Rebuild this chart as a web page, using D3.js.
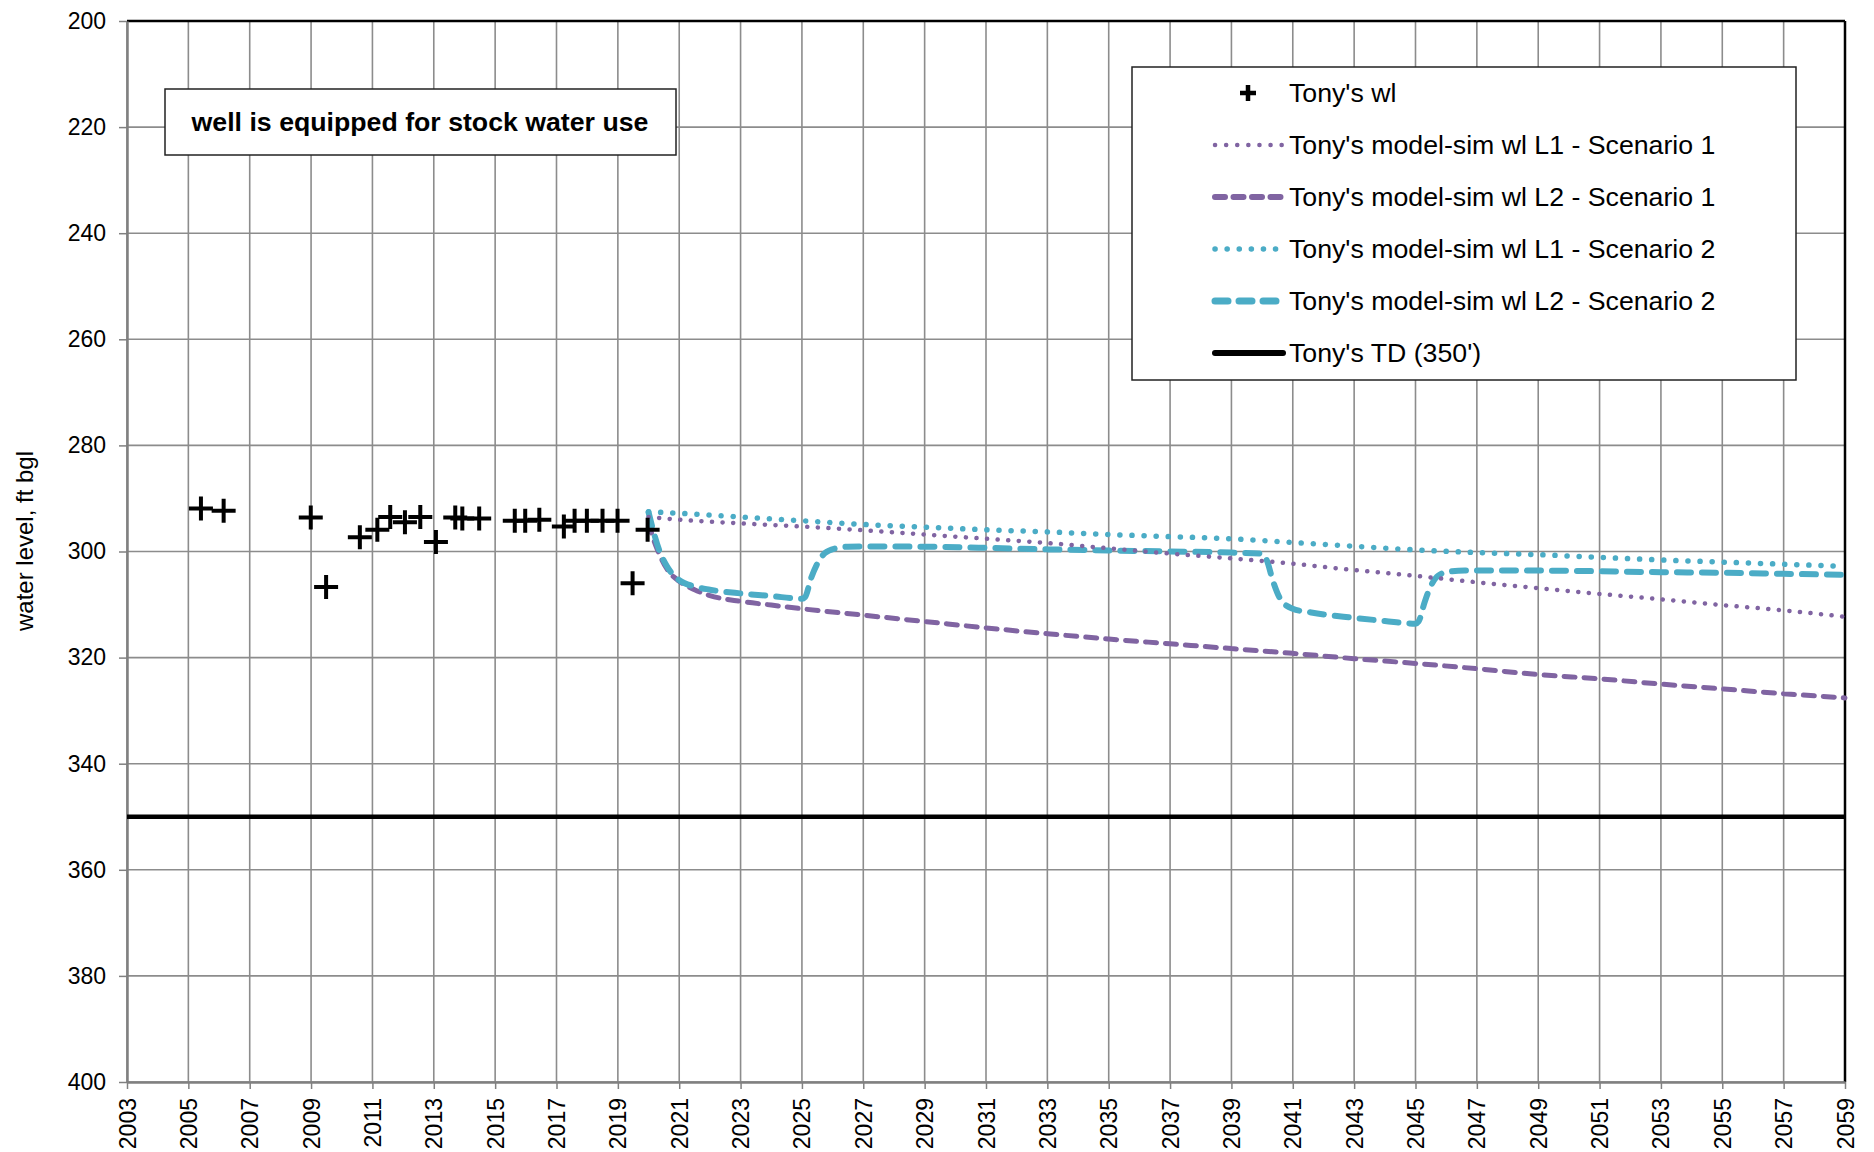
<!DOCTYPE html>
<meta charset="utf-8">
<style>
body {
  margin: 0;
  background: #fff;
  font-family: 'Liberation Sans', Arial, sans-serif;
}
.axis .domain {
  stroke: #808080;
  stroke-width: 2.5;
}
.axis .tick line {
  stroke: #808080;
  stroke-width: 1.5;
}
.axis text {
  font-family: 'Liberation Sans', Arial, sans-serif;
  fill: #000;
}
.grid line {
  stroke: #8c8c8c;
  stroke-width: 1.6;
}
</style>
<svg width="1874" height="1152"></svg>
<script src="https://d3js.org/d3.v7.min.js"></script>
<script>
// ---- data ----
var obsYears = [2005.41, 2006.15, 2008.99, 2009.49, 2010.59, 2011.16, 2011.58, 2012.06, 2012.56, 2013.07,
  2013.70, 2013.93, 2014.48, 2015.64, 2015.98, 2016.44, 2017.24, 2017.59, 2017.99, 2018.50,
  2018.99, 2019.48, 2019.97];
var obsLevels = [291.9, 292.3, 293.6, 306.7, 297.3, 295.9, 293.5, 294.5, 293.5, 298.2,
  293.6, 293.8, 293.8, 294.2, 294.2, 294.0, 295.3, 294.2, 294.2, 294.2,
  294.2, 306.0, 295.9];

var s1l1Years = [2020, 2021, 2023, 2025, 2027, 2029, 2031, 2033, 2035, 2037, 2039, 2041, 2043, 2045, 2047, 2049, 2051, 2053, 2055, 2057, 2059];
var s1l1Levels = [293.5, 294.0, 294.7, 295.3, 296.0, 296.8, 297.6, 298.4, 299.4, 300.4, 301.3, 302.3, 303.5, 304.6, 305.8, 306.9, 308.0, 309.0, 310.1, 311.1, 312.3];

var s2l1Years = [2020, 2021, 2023, 2025, 2027, 2029, 2031, 2033, 2035, 2037, 2039, 2041, 2043, 2045, 2047, 2049, 2051, 2053, 2055, 2057, 2059];
var s2l1Levels = [292.5, 292.8, 293.5, 294.2, 294.9, 295.4, 295.9, 296.3, 296.8, 297.2, 297.6, 298.3, 299.0, 299.7, 300.2, 300.6, 301.1, 301.6, 302.0, 302.4, 302.8];

var s1l2Years = [2020, 2020.15, 2020.35, 2020.6, 2021, 2021.5, 2022, 2023, 2024, 2025, 2027, 2029, 2031, 2033, 2035, 2037, 2039, 2041, 2043, 2045, 2047, 2049, 2051, 2053, 2055, 2057, 2059];
var s1l2Levels = [294.5, 297.5, 300.5, 303.3, 305.6, 307.2, 308.3, 309.4, 310.1, 310.8, 312.0, 313.2, 314.4, 315.5, 316.5, 317.4, 318.3, 319.2, 320.2, 321.1, 322.1, 323.2, 324.0, 325.0, 325.9, 326.8, 327.6];

var s2l2Years = [2020, 2020.15, 2020.35, 2020.6, 2021, 2021.5, 2022, 2023, 2024, 2025, 2025.1, 2025.3, 2025.5, 2025.75, 2026.1, 2026.5,
  2027, 2029, 2031, 2033, 2035, 2037, 2039, 2040, 2040.15, 2040.35, 2040.6, 2041, 2041.6, 2043, 2044, 2045,
  2045.1, 2045.3, 2045.5, 2045.75, 2046.1, 2046.6, 2049, 2053, 2055, 2057, 2059];
var s2l2Levels = [292.6, 296.0, 299.8, 302.8, 305.4, 306.6, 307.2, 307.9, 308.4, 308.9, 308.6, 305.0, 302.3, 300.3, 299.4, 299.1,
  299.05, 299.1, 299.3, 299.6, 299.8, 300.0, 300.2, 300.4, 301.6, 305.5, 309.0, 310.8, 311.5, 312.5, 313.1, 313.6,
  313.2, 309.5, 306.5, 304.5, 303.8, 303.6, 303.6, 303.9, 304.0, 304.2, 304.4];

var tdLevel = 350;

var xTickYears = d3.range(2003, 2060, 2);
var yTicks = d3.range(200, 401, 20);

var legendLabels = ["Tony's wl", "Tony's model-sim wl L1 - Scenario 1", "Tony's model-sim wl L2 - Scenario 1",
  "Tony's model-sim wl L1 - Scenario 2", "Tony's model-sim wl L2 - Scenario 2", "Tony's TD (350')"];
var noteText = "well is equipped for stock water use";

var purple = "#8064a2", aqua = "#4bacc6";

// ---- layout ----
var svg = d3.select("svg"),
    margin = {top: 21, right: 29, bottom: 70, left: 127},
    width = +svg.attr("width") - margin.left - margin.right,
    height = +svg.attr("height") - margin.top - margin.bottom,
    g = svg.append("g").attr("transform", "translate(" + margin.left + "," + margin.top + ")");

var x = d3.scaleLinear().domain([2003, 2059]).range([0, width]);
var y = d3.scaleLinear().domain([200, 400]).range([0, height]);

// grid
var grid = g.append("g").attr("class", "grid");
grid.selectAll("line.v")
  .data(xTickYears)
  .enter().append("line")
    .attr("x1", function(d) { return x(d); })
    .attr("x2", function(d) { return x(d); })
    .attr("y1", 0)
    .attr("y2", height);
grid.selectAll("line.h")
  .data(yTicks)
  .enter().append("line")
    .attr("x1", 0)
    .attr("x2", width)
    .attr("y1", function(d) { return y(d); })
    .attr("y2", function(d) { return y(d); });

// frame top / right in black
g.append("line").attr("x1", 0).attr("x2", width).attr("y1", 0).attr("y2", 0)
  .attr("stroke", "#000").attr("stroke-width", 2.5);
g.append("line").attr("x1", width).attr("x2", width).attr("y1", 0).attr("y2", height)
  .attr("stroke", "#000").attr("stroke-width", 2.5);

// axes
var yAxis = g.append("g")
    .attr("class", "axis")
    .call(d3.axisLeft(y).tickValues(yTicks).tickSize(8).tickPadding(13).tickSizeOuter(0));
yAxis.selectAll("text").style("font-size", "23px");

var xAxis = g.append("g")
    .attr("class", "axis")
    .attr("transform", "translate(0," + height + ")")
    .call(d3.axisBottom(x).tickValues(xTickYears).tickFormat(d3.format("d")).tickSize(7).tickSizeOuter(0));
xAxis.selectAll("text")
    .style("font-size", "23px")
    .style("text-anchor", "end")
    .attr("x", -16)
    .attr("y", 0)
    .attr("dy", "0.35em")
    .attr("transform", "rotate(-90)");

// TD line
g.append("line")
  .attr("x1", 0).attr("x2", width)
  .attr("y1", y(tdLevel)).attr("y2", y(tdLevel))
  .attr("stroke", "#000").attr("stroke-width", 4.5);

// simulated series
var line = d3.line()
    .x(function(d) { return x(d[0]); })
    .y(function(d) { return y(d[1]); })
    .curve(d3.curveMonotoneX);

var series = [
  {years: s1l2Years, levels: s1l2Levels, color: purple, w: 5, dash: "11,9"},
  {years: s2l2Years, levels: s2l2Levels, color: aqua, w: 6, dash: "14,11"},
  {years: s1l1Years, levels: s1l1Levels, color: purple, w: 4.5, dash: "0.1,10.5"},
  {years: s2l1Years, levels: s2l1Levels, color: aqua, w: 5.5, dash: "0.1,12"}
];

series.forEach(function(s) {
  g.append("path")
    .datum(d3.zip(s.years, s.levels))
    .attr("fill", "none")
    .attr("stroke", s.color)
    .attr("stroke-width", s.w)
    .attr("stroke-linecap", "round")
    .attr("stroke-dasharray", s.dash)
    .attr("d", line);
});

// observed points
g.append("g")
  .selectAll("path")
  .data(d3.zip(obsYears, obsLevels))
  .enter().append("path")
    .attr("transform", function(d) { return "translate(" + x(d[0]) + "," + y(d[1]) + ")"; })
    .attr("d", "M-12,0H12M0,-12V12")
    .attr("stroke", "#000")
    .attr("stroke-width", 4)
    .attr("fill", "none");

// y axis title
svg.append("text")
  .attr("transform", "translate(33," + 541 + ") rotate(-90)")
  .style("text-anchor", "middle")
  .style("font-size", "24px")
  .text("water level, ft bgl");

// note box
var note = svg.append("g");
note.append("rect")
  .attr("x", 165).attr("y", 89)
  .attr("width", 511).attr("height", 66)
  .attr("fill", "#fff")
  .attr("stroke", "#222").attr("stroke-width", 1.5);
note.append("text")
  .attr("x", 420).attr("y", 131)
  .style("text-anchor", "middle")
  .style("font-size", "26.7px")
  .style("font-weight", "bold")
  .text(noteText);

// legend
var legend = svg.append("g");
legend.append("rect")
  .attr("x", 1132).attr("y", 67)
  .attr("width", 664).attr("height", 313)
  .attr("fill", "#fff")
  .attr("stroke", "#222").attr("stroke-width", 1.5);

var legendStyles = [
  null,
  {color: purple, w: 4.5, dash: "0.1,11"},
  {color: purple, w: 6, dash: "10,8.5"},
  {color: aqua, w: 5.5, dash: "0.1,12"},
  {color: aqua, w: 7, dash: "13,11"},
  {color: "#000", w: 6, dash: null}
];

var rows = legend.selectAll("g.row")
  .data(legendLabels)
  .enter().append("g")
    .attr("transform", function(d, i) { return "translate(0," + (93 + i * 52) + ")"; });

rows.append("text")
  .attr("x", 1289)
  .attr("dy", "0.35em")
  .style("font-size", "26.7px")
  .text(function(d) { return d; });

rows.each(function(d, i) {
  var r = d3.select(this);
  if (i === 0) {
    r.append("path")
      .attr("transform", "translate(1248,0)")
      .attr("d", "M-8,0H8M0,-8V8")
      .attr("stroke", "#000")
      .attr("stroke-width", 4.5);
    return;
  }
  var st = legendStyles[i];
  r.append("line")
    .attr("x1", 1215).attr("x2", 1283)
    .attr("stroke", st.color)
    .attr("stroke-width", st.w)
    .attr("stroke-linecap", "round")
    .attr("stroke-dasharray", st.dash);
});
</script>
